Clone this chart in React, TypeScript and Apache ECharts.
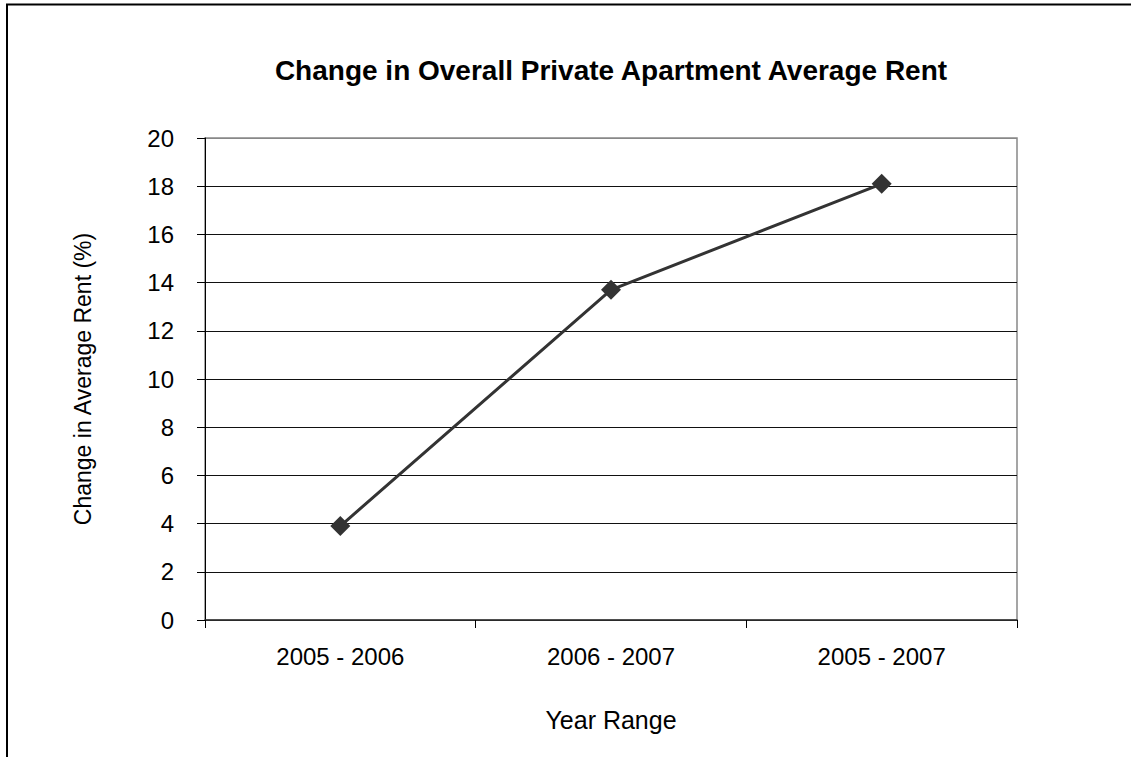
import React, { useEffect, useRef } from "react";
import * as echarts from "echarts";

const categories = ["2005 - 2006", "2006 - 2007", "2005 - 2007"];
const changeValues = [3.9, 13.7, 18.1];
const titleText = "Change in Overall Private Apartment Average Rent";
const yAxisTitle = "Change in Average Rent (%)";
const xAxisTitle = "Year Range";

const FONT = "'Liberation Sans', Arial, sans-serif";

export default function App() {
  const ref = useRef<HTMLDivElement>(null);

  useEffect(() => {
    document.body.style.margin = "0";
    if (!ref.current) return;
    const chart = echarts.init(ref.current, null, { renderer: "svg" });
    const splitColors = Array.from({ length: 11 }, (_, i) => (i === 10 ? "#888888" : "#111111"));
    chart.setOption({
      animation: false,
      backgroundColor: "#ffffff",
      textStyle: { fontFamily: FONT },
      title: {
        text: titleText,
        left: 606,
        top: 51,
        textAlign: "center",
        textStyle: { fontFamily: FONT, fontSize: 28, fontWeight: "bold", color: "#000" },
      },
      graphic: [
        {
          type: "rect",
          shape: { x: 7, y: 4.5, width: 1140, height: 800 },
          style: { fill: "none", stroke: "#000", lineWidth: 2 },
          silent: true,
          z: 100,
        },
      ],
      grid: {
        left: 205,
        top: 138,
        width: 812,
        height: 482,
        show: true,
        borderColor: "#888888",
        borderWidth: 1.5,
        backgroundColor: "transparent",
      },
      xAxis: {
        type: "category",
        data: categories,
        boundaryGap: true,
        name: xAxisTitle,
        nameLocation: "middle",
        nameGap: 87,
        nameTextStyle: { fontFamily: FONT, fontSize: 25, color: "#000" },
        axisLine: { show: true, lineStyle: { color: "#333", width: 1.5 } },
        axisTick: { show: true, alignWithLabel: false, length: 8, lineStyle: { color: "#000" } },
        axisLabel: { fontFamily: FONT, fontSize: 24, color: "#000", margin: 24 },
        splitLine: { show: false },
      },
      yAxis: {
        type: "value",
        min: 0,
        max: 20,
        interval: 2,
        name: yAxisTitle,
        nameLocation: "middle",
        nameGap: 111,
        nameTextStyle: { fontFamily: FONT, fontSize: 23, color: "#000" },
        axisLine: { show: true, lineStyle: { color: "#000", width: 1 } },
        axisTick: { show: true, length: 8, lineStyle: { color: "#000" } },
        axisLabel: { fontFamily: FONT, fontSize: 24, color: "#000", margin: 31 },
        splitLine: { show: true, lineStyle: { color: splitColors, width: 1 } },
      },
      series: [
        {
          type: "line",
          data: changeValues,
          symbol: "diamond",
          symbolSize: 20,
          showSymbol: true,
          lineStyle: { color: "#333333", width: 3 },
          itemStyle: { color: "#333333" },
          z: 5,
        },
      ],
    });
    return () => chart.dispose();
  }, []);

  return <div ref={ref} style={{ width: 1131, height: 757 }} />;
}
